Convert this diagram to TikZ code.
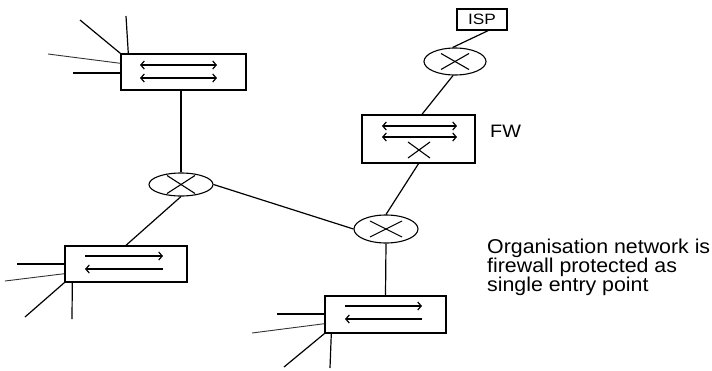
\documentclass[tikz,border=0pt]{standalone}
\usepackage{fontspec}
\setmainfont{Liberation Sans}
\usetikzlibrary{shapes.geometric,arrows.meta}
\begin{document}
\begin{tikzpicture}[x=1pt,y=-1pt,
  box/.style={draw,line width=1.4pt,inner sep=0pt,rectangle},
  hub/.style={draw,line width=1.1pt,ellipse,inner sep=0pt},
  link/.style={line width=1.2pt},
  spoke/.style={line width=1.2pt},
  thinspoke/.style={line width=0.9pt,black!80},
  xmark/.style={line width=1.1pt},
  dar/.style={line width=1.2pt,{Straight Barb[length=3.5pt,width=8pt]}-{Straight Barb[length=3.5pt,width=8pt]}},
  rar/.style={line width=1.2pt,-{Straight Barb[length=3.5pt,width=8pt]}},
  lar/.style={line width=1.2pt,{Straight Barb[length=3.5pt,width=8pt]}-},
  lbl/.style={inner sep=0pt,transform shape}
]
\useasboundingbox (0,0) rectangle (712,370);
% nodes
\node[box,minimum width=125pt,minimum height=36pt] (sw1) at (183.5,72) {};
\node[box,minimum width=113pt,minimum height=48pt] (fw) at (418.5,139) {};
\node[box,minimum width=50pt,minimum height=21pt] (isp) at (482,19.5) {};
\node[lbl,xscale=1.15,font=\fontsize{15}{15}\selectfont] at (isp.center) {ISP};
\node[box,minimum width=122pt,minimum height=36pt] (ll) at (126,264) {};
\node[box,minimum width=121pt,minimum height=37pt] (lr) at (385.5,314.5) {};
\node[hub,minimum width=64pt,minimum height=23pt] (e1) at (181,184.5) {};
\node[hub,minimum width=64pt,minimum height=28pt] (e2) at (386,229) {};
\node[hub,minimum width=62pt,minimum height=27pt] (e3) at (455,61.5) {};
\node[lbl,anchor=west,xscale=1.1,font=\fontsize{18}{18}\selectfont] (fwl) at (490,131) {FW};
\node[lbl,anchor=north west,align=left,xscale=1.067,font=\fontsize{20}{19}\selectfont] (note) at (487,239)
  {Organisation network is\\firewall protected as\\single entry point};
% crosses in hubs
\foreach \e/\dx/\dy in {e1/14/9,e2/16/8,e3/14/8}{
  \draw[xmark] ([shift={(-\dx,-\dy)}]\e.center) -- ([shift={(\dx,\dy)}]\e.center);
  \draw[xmark] ([shift={(-\dx,\dy)}]\e.center) -- ([shift={(\dx,-\dy)}]\e.center);
}
% cross in FW
\draw[xmark] (408,142) -- (430,158);
\draw[xmark] (408,158) -- (430,142);
% arrows in boxes
\draw[dar] (140,65) -- (217,65);
\draw[dar] (140,78) -- (217,78);
\draw[dar] (382,126) -- (457,126);
\draw[dar] (382,137) -- (457,137);
\draw[rar] (85,256) -- (163,256);
\draw[lar] (85,269) -- (163,269);
\draw[rar] (345,306) -- (422,306);
\draw[lar] (345,319) -- (422,319);
% links
\draw[link] ([xshift=6pt]isp.south) -- (e3.100);
\draw[link] (e3.262) -- ([xshift=3.5pt]fw.north);
\draw[link] (fw.south) -- (e2.north);
\draw[link] (e2.south) -- (lr.north);
\draw[link] (e1.east) -- (e2.west);
\draw[link] (e1.north) -- (e1.north |- sw1.south);
\draw[link] (e1.south) -- (ll.north);
% spoke ends
\coordinate (a1) at (80,20);
\coordinate (a2) at (126,16);
\coordinate (a3) at (48,54);
\coordinate (a4) at (73,73);
\coordinate (b1) at (17,264);
\coordinate (b2) at (5,281);
\coordinate (b3) at (25,317);
\coordinate (b4) at (72,319);
\coordinate (c1) at (277,314);
\coordinate (c2) at (252,333);
\coordinate (c3) at (284,367);
\coordinate (c4) at (330,368);
% spokes
\draw[spoke] (a1) -- (sw1.north west);
\draw[spoke] (a2) -- ([xshift=8pt]sw1.north west);
\draw[thinspoke] (a3) -- ([yshift=-10pt]sw1.north west);
\draw[spoke] (a4) -- (sw1.west |- a4);
\draw[spoke] (b1) -- (ll.west |- b1);
\draw[thinspoke] (b2) -- ([yshift=9pt]ll.south west);
\draw[spoke] (b3) -- (ll.south west);
\draw[spoke] (b4) -- ([xshift=8pt]ll.south west);
\draw[spoke] (c1) -- (lr.west |- c1);
\draw[thinspoke] (c2) -- ([yshift=10pt]lr.south west);
\draw[spoke] (c3) -- (lr.south west);
\draw[spoke] (c4) -- ([xshift=7pt]lr.south west);
\end{tikzpicture}
\end{document}
